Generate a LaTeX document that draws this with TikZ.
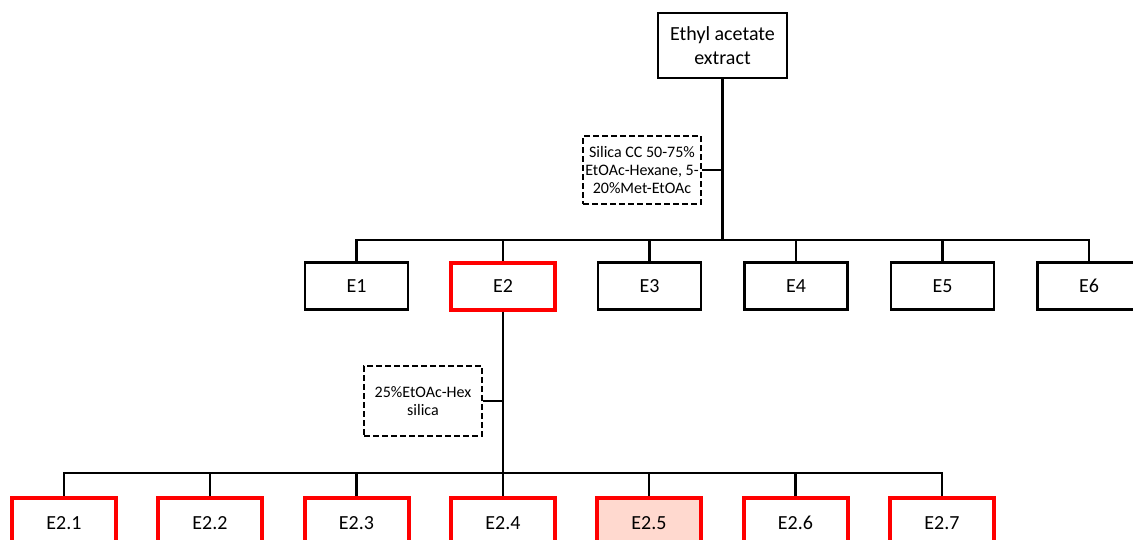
\documentclass[tikz,border=0pt]{standalone}
\usepackage{fontspec}
\setmainfont{Carlito}
\definecolor{hitred}{HTML}{FF0000}
\definecolor{hitfill}{HTML}{FFD9CF}
\begin{document}
\begin{tikzpicture}[x=1pt,y=-1pt,
  box/.style={draw=black,line width=2.2pt,rectangle,minimum width=103pt,minimum height=47pt,
    inner sep=0pt,font=\fontsize{20}{24}\selectfont,align=center},
  hit/.style={box,draw=hitred,line width=4pt,minimum width=104pt},
  note/.style={draw=black,line width=2.2pt,dash pattern=on 6pt off 3pt,rectangle,
    inner sep=0pt,font=\fontsize{16}{18}\selectfont,align=center},
  link/.style={line width=2.5pt}]
\useasboundingbox (0,0) rectangle (1133,539);
% root extract
\node[box,minimum width=129pt,minimum height=65pt] (root) at (722.5,45.5) {Ethyl acetate\\extract};
% first column run
\node[note,minimum width=118pt,minimum height=68pt] (cc1) at (642,170) {Silica CC 50-75\%\\EtOAc-Hexane, 5-\\20\%Met-EtOAc};
\coordinate (j1) at (722.5,240);
% fractions E1--E6
\node[box] (e1) at (356.5,286) {E1};
\node[hit] (e2) at (503,286) {E2};
\node[box] (e3) at (649.5,286) {E3};
\node[box] (e4) at (796,286) {E4};
\node[box] (e5) at (942.5,286) {E5};
\node[box] (e6) at (1089,286) {E6};
% second column run
\node[note,minimum width=118pt,minimum height=70pt] (cc2) at (423,401) {25\%EtOAc-Hex\\silica};
\coordinate (j2) at (503,473);
% sub-fractions of E2
\node[hit,anchor=north,minimum height=50pt] (s1) at (64,496) {E2.1};
\node[hit,anchor=north,minimum height=50pt] (s2) at (210,496) {E2.2};
\node[hit,anchor=north,minimum height=50pt] (s3) at (356.5,496) {E2.3};
\node[hit,anchor=north,minimum height=50pt] (s4) at (503,496) {E2.4};
\node[hit,anchor=north,minimum height=50pt,fill=hitfill] (s5) at (649,496) {E2.5};
\node[hit,anchor=north,minimum height=50pt] (s6) at (795.5,496) {E2.6};
\node[hit,anchor=north,minimum height=50pt] (s7) at (942,496) {E2.7};
% tree connectors
\draw[link] (root.south) -- (j1);
\draw[link] (cc1.east) -- (cc1.east -| j1);
\foreach \n in {e1,e2,e3,e4,e5,e6} \draw[link] (j1) -| (\n.north);
\draw[link] (e2.south) -- (j2);
\draw[link] (cc2.east) -- (cc2.east -| j2);
\foreach \n in {s1,s2,s3,s4,s5,s6,s7} \draw[link] (j2) -| (\n.north);
\end{tikzpicture}
\end{document}
